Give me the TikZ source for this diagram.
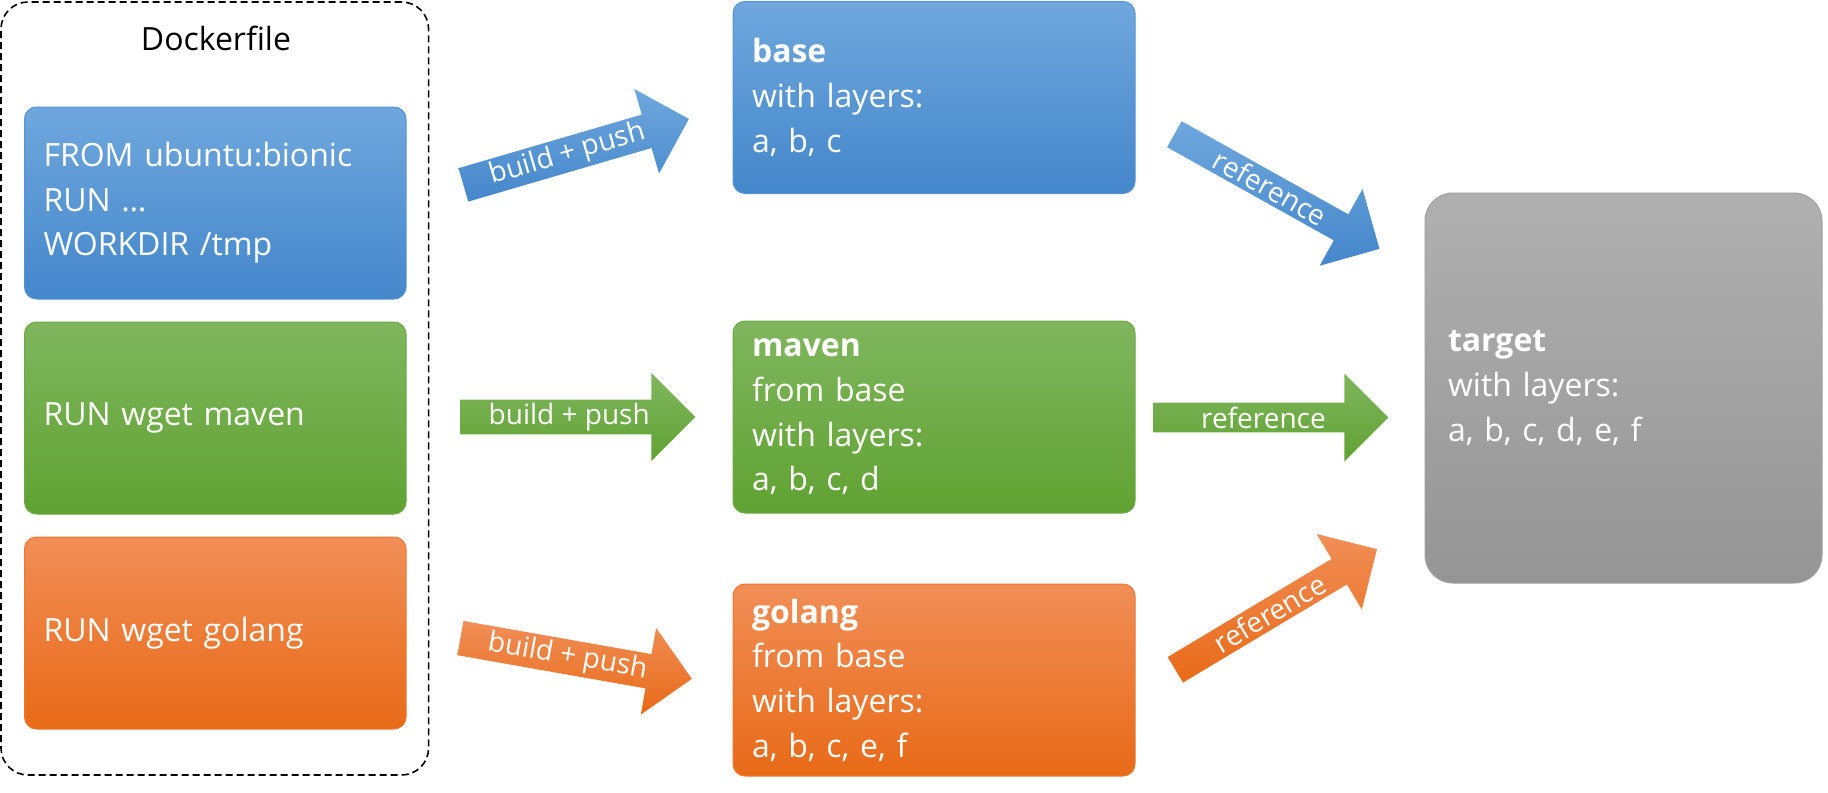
\documentclass[tikz,border=0pt]{standalone}
\usepackage{fontspec}
\setmainfont{Open Sans}
\usetikzlibrary{shapes.arrows,positioning}
\definecolor{bluetop}{HTML}{6FA7DD}
\definecolor{bluebot}{HTML}{4487CB}
\definecolor{greentop}{HTML}{80B65E}
\definecolor{greenbot}{HTML}{60A232}
\definecolor{orangetop}{HTML}{F18E57}
\definecolor{orangebot}{HTML}{E86A17}
\definecolor{graytop}{HTML}{B0B0B0}
\definecolor{graybot}{HTML}{959595}
\newcommand\boxfont{\fontsize{16pt}{22.3pt}\selectfont}
\newcommand\arrowfont{\fontsize{14pt}{16pt}\selectfont}
\tikzset{
  layer box/.style={
    rectangle, rounded corners=6pt,
    draw=#1top!40!#1bot, line width=0.5pt,
    top color=#1top, bottom color=#1bot,
    text=white, align=left, font=\boxfont,
    inner xsep=9.5pt, inner ysep=0pt,
  },
  run box/.style={layer box=#1, text width=171.75pt, minimum height=96pt},
  image box/.style={layer box=#1, text width=182pt, minimum height=96pt},
  target box/.style={layer box=gray, rounded corners=14pt, inner xsep=11.5pt,
    text width=175.5pt, minimum height=195pt},
  push arrow/.style={
    single arrow, single arrow head extend=11pt,
    minimum width=44pt, minimum height=117.5pt, inner sep=0pt,
    top color=#1top, bottom color=#1bot,
    text=white, font=\arrowfont, anchor=tail,
  },
  dashed frame/.style={
    draw, rounded corners=13.5pt, line width=0.8pt,
    dash pattern=on 3.5pt off 2pt,
    minimum width=213.8pt, minimum height=386.5pt,
  },
  caption/.style={anchor=base, font=\boxfont},
}

\begin{document}
\begin{tikzpicture}[x=0.5pt, y=-0.5pt, node distance=11pt]
  \useasboundingbox (0,0) rectangle (1828,793);

  \node [dashed frame] (dockerfile) at (214.8,388.5) {};
  \node [caption] (dockerlabel) at (216,50) {Dockerfile};

  \node [run box=blue] (fromrun) at (215.25,203) {FROM ubuntu:bionic\\RUN …\\WORKDIR /tmp};
  \node [run box=green, below=of fromrun] (mavenrun) {RUN wget maven};
  \node [run box=orange, below=of mavenrun] (golangrun) {RUN wget golang};

  \node [image box=blue] (base) at (934,97.5) {\textbf{base}\\with layers:\\a, b, c};
  \node [image box=green] (maven) at (934,417) {\textbf{maven}\\from base\\with layers:\\a, b, c, d};
  \node [image box=orange] (golang) at (934,680) {\textbf{golang}\\from base\\with layers:\\a, b, c, e, f};

  \node [target box] (target) at (1623.5,388) {\textbf{target}\\with layers:\\a, b, c, d, e, f};

  \node [push arrow=blue, rotate=16.3] (pushbase) at (463,185) {build + push};
  \node [push arrow=green] (pushmaven) at (460,417) {build + push};
  \node [push arrow=orange, rotate=-10] (pushgolang) at (460,638) {build + push};

  \node [push arrow=blue, rotate=-29.2] (refbase) at (1174,134) {reference};
  \node [push arrow=green] (refmaven) at (1153,417.5) {reference};
  \node [push arrow=orange, rotate=30.9] (refgolang) at (1175,670) {reference};
\end{tikzpicture}
\end{document}
